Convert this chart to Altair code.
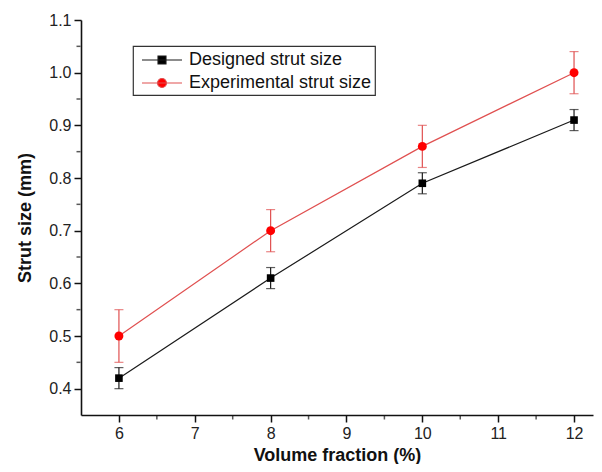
import altair as alt
import pandas as pd

volume = [6, 8, 10, 12]
designed = [0.42, 0.61, 0.79, 0.91]
designed_err = [0.02, 0.02, 0.02, 0.02]
experimental = [0.50, 0.70, 0.86, 1.00]
experimental_err = [0.05, 0.04, 0.04, 0.04]
series_names = ["Designed strut size", "Experimental strut size"]

x_major = [6, 7, 8, 9, 10, 11, 12]
x_minor = [6.5, 7.5, 8.5, 9.5, 10.5, 11.5]
y_major = [0.4, 0.5, 0.6, 0.7, 0.8, 0.9, 1.0, 1.1]
y_minor = [0.45, 0.55, 0.65, 0.75, 0.85, 0.95, 1.05]
x_min, x_max = 5.5, 12.25
y_min, y_max = 0.35, 1.1

rows = []
for v, d, e in zip(volume, designed, designed_err):
    rows.append({"x": v, "y": d, "lo": d - e, "hi": d + e, "series": series_names[0]})
for v, d, e in zip(volume, experimental, experimental_err):
    rows.append({"x": v, "y": d, "lo": d - e, "hi": d + e, "series": series_names[1]})
df = pd.DataFrame(rows)

xm_df = pd.DataFrame({"x": x_minor, "y": [y_min] * len(x_minor)})
ym_df = pd.DataFrame({"x": [x_min] * len(y_minor), "y": y_minor})

FONT = "Liberation Sans"
line_colors = ["#1a1a1a", "#e05050"]
marker_colors = ["#000000", "#ff0000"]
AXIS_COLOR = "#111111"

x_scale = alt.Scale(domain=[x_min, x_max], nice=False, zero=False)
y_scale = alt.Scale(domain=[y_min, y_max], nice=False, zero=False)

x_axis = alt.Axis(values=x_major, title="Volume fraction (%)", format="d",
                  tickSize=7, grid=False, orient="bottom")
y_axis = alt.Axis(values=y_major, title="Strut size (mm)", format=".1f",
                  tickSize=7, grid=False, orient="left")

color = alt.Color("series:N", scale=alt.Scale(domain=series_names, range=line_colors), legend=None)

base = alt.Chart(df)

lines = base.mark_line(strokeWidth=1.2).encode(
    x=alt.X("x:Q", scale=x_scale, axis=x_axis),
    y=alt.Y("y:Q", scale=y_scale, axis=y_axis),
    color=color,
)

# minor ticks, placed through the scales on the axis lines
x_minor_ticks = alt.Chart(xm_df).mark_tick(
    orient="vertical", size=4, thickness=1.5, color=AXIS_COLOR
).encode(
    x=alt.X("x:Q", axis=None),
    y=alt.Y("y:Q", axis=None),
    yOffset=alt.value(2.5),
)
y_minor_ticks = alt.Chart(ym_df).mark_tick(
    orient="horizontal", size=4, thickness=1.5, color=AXIS_COLOR
).encode(
    x=alt.X("x:Q", axis=None),
    y=alt.Y("y:Q", axis=None),
    xOffset=alt.value(-2.5),
)

err_rule = base.mark_rule(strokeWidth=1.2).encode(
    x=alt.X("x:Q", axis=None), y=alt.Y("lo:Q", axis=None), y2="hi:Q", color=color,
)
err_lo = base.mark_tick(orient="horizontal", size=9, thickness=1.2).encode(
    x=alt.X("x:Q", axis=None), y=alt.Y("lo:Q", axis=None), color=color,
)
err_hi = base.mark_tick(orient="horizontal", size=9, thickness=1.2).encode(
    x=alt.X("x:Q", axis=None), y=alt.Y("hi:Q", axis=None), color=color,
)

points = base.mark_point(filled=True, opacity=1).encode(
    x=alt.X("x:Q", axis=None),
    y=alt.Y("y:Q", axis=None),
    fill=alt.Fill("series:N", scale=alt.Scale(domain=series_names, range=marker_colors), legend=None),
    shape=alt.Shape("series:N", scale=alt.Scale(domain=series_names, range=["square", "circle"]), legend=None),
    size=alt.Size("series:N", scale=alt.Scale(domain=series_names, range=[58, 80]), legend=None),
)

legend_paths = [
    "M-0.5,0H3.5M1.1,-0.4H1.9V0.4H1.1Z",
    "M-0.5,0H3.5M1.05,0A0.45,0.45,0,1,0,1.95,0A0.45,0.45,0,1,0,1.05,0Z",
]

leg_df = pd.DataFrame({"lg": series_names, "x": [100, 100], "y": [0.5, 0.5]})
legend_layer = alt.Chart(leg_df).transform_filter("datum.x < 50").mark_point(
    filled=True, strokeWidth=1.1, opacity=1
).encode(
    x=alt.X("x:Q", axis=None),
    y=alt.Y("y:Q", axis=None),
    stroke=alt.Stroke("lg:N", scale=alt.Scale(domain=series_names, range=line_colors),
                      legend=alt.Legend(title=None)),
    fill=alt.Fill("lg:N", scale=alt.Scale(domain=series_names, range=marker_colors),
                  legend=alt.Legend(title=None)),
    shape=alt.Shape("lg:N", scale=alt.Scale(domain=series_names, range=legend_paths),
                    legend=alt.Legend(title=None)),
)

chart = alt.layer(
    lines, err_rule, err_lo, err_hi, points, x_minor_ticks, y_minor_ticks, legend_layer
).resolve_scale(
    shape="independent", stroke="independent", fill="independent"
).resolve_axis(
    x="independent", y="independent"
).properties(
    width=512,
    height=395,
    autosize=alt.AutoSizeParams(type="none"),
    padding={"left": 73, "top": 12, "right": 1, "bottom": 49},
).configure_view(
    stroke=None,
).configure_axis(
    labelFont=FONT,
    labelFontSize=16,
    labelColor="#222222",
    titleFont=FONT,
    titleFontSize=18,
    titleFontWeight="bold",
    titleColor="#111111",
    domainColor=AXIS_COLOR,
    domainWidth=1.6,
    tickColor=AXIS_COLOR,
    tickWidth=1.5,
).configure_axisX(
    labelPadding=3,
    titlePadding=5,
).configure_axisY(
    labelPadding=3,
    titlePadding=14,
).configure_legend(
    orient="none",
    legendX=52,
    legendY=26,
    strokeColor="#333333",
    strokeWidth=1.2,
    padding=3,
    symbolSize=400,
    symbolStrokeWidth=1.1,
    labelFont=FONT,
    labelFontSize=18,
    labelColor="#111111",
    labelOffset=31,
    labelLimit=0,
    rowPadding=3,
    fillColor="white",
)

chart.save("out.html", embed_options={"renderer": "svg", "actions": False})
